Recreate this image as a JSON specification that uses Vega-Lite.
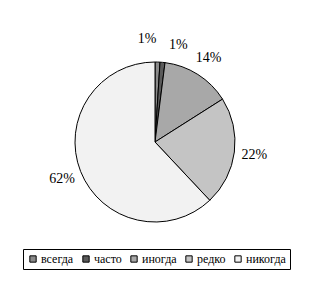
{
  "$schema": "https://vega.github.io/schema/vega-lite/v6.json",
  "width": 310,
  "height": 284,
  "autosize": {"type": "none"},
  "padding": 0,
  "background": "white",
  "config": {"view": {"stroke": null}, "font": "Liberation Serif"},
  "data": {"values": [
    {"idx": 1, "cat": "всегда", "pct": 1, "label": "1%"},
    {"idx": 2, "cat": "часто", "pct": 1, "label": "1%"},
    {"idx": 3, "cat": "иногда", "pct": 14, "label": "14%"},
    {"idx": 4, "cat": "редко", "pct": 22, "label": "22%"},
    {"idx": 5, "cat": "никогда", "pct": 62, "label": "62%"}
  ]},
  "encoding": {
    "theta": {"field": "pct", "type": "quantitative", "stack": true},
    "order": {"field": "idx", "type": "quantitative"}
  },
  "layer": [
    {
      "mark": {"type": "arc", "outerRadius": 80, "stroke": "black", "strokeWidth": 1},
      "encoding": {
        "color": {
          "field": "cat", "type": "nominal",
          "scale": {"domain": ["всегда", "часто", "иногда", "редко", "никогда"],
                    "range": ["#8a8a8a", "#5a5a5a", "#a8a8a8", "#c4c4c4", "#f2f2f2"]},
          "legend": {
            "title": null, "orient": "none", "direction": "horizontal",
            "legendX": 23, "legendY": 249,
            "strokeColor": "black", "padding": 4,
            "symbolType": "square", "symbolSize": 40,
            "symbolStrokeColor": "black", "symbolStrokeWidth": 1,
            "labelFont": "Liberation Serif", "labelFontSize": 12, "labelColor": "black",
            "columnPadding": 6, "labelOffset": 2
          }
        }
      }
    },
    {
      "mark": {"type": "text", "radius": 100, "font": "Liberation Serif", "fontSize": 14, "color": "black"},
      "encoding": {"text": {"condition": {"test": "datum.pct <= 1", "value": ""}, "field": "label"}}
    },
    {
      "mark": {"type": "text", "radius": 100, "dx": -11, "dy": -3, "font": "Liberation Serif", "fontSize": 14, "color": "black"},
      "encoding": {"text": {"condition": {"test": "datum.idx != 1", "value": ""}, "field": "label"}}
    },
    {
      "mark": {"type": "text", "radius": 100, "dx": 14, "dy": 3, "font": "Liberation Serif", "fontSize": 14, "color": "black"},
      "encoding": {"text": {"condition": {"test": "datum.idx != 2", "value": ""}, "field": "label"}}
    }
  ]
}
